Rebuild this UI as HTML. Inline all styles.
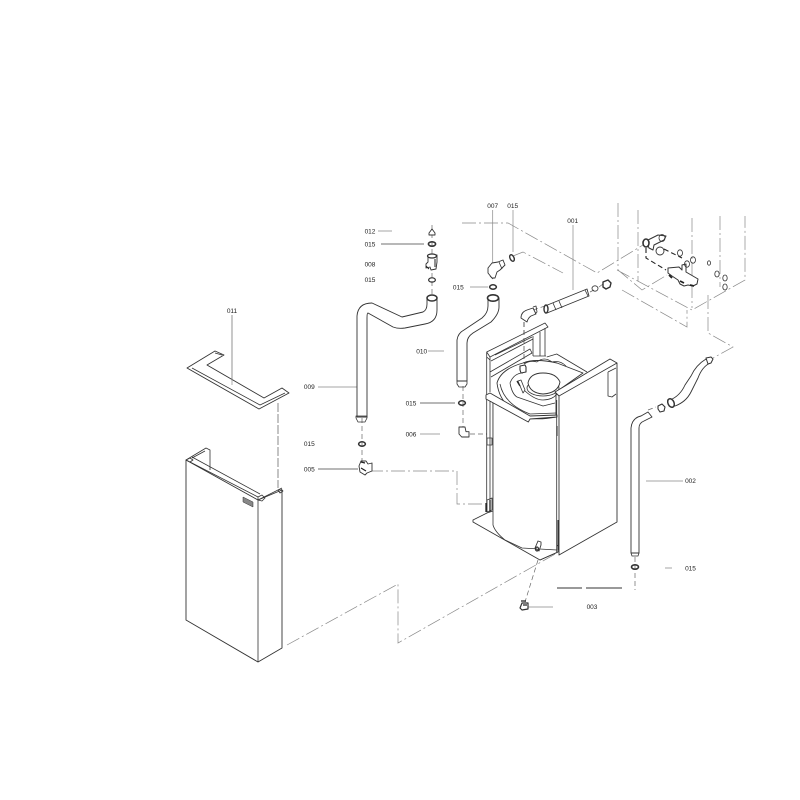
<!DOCTYPE html>
<html><head><meta charset="utf-8"><style>
html,body{margin:0;padding:0;background:#fff}
svg{display:block;filter:blur(.3px)}
text{font-family:"Liberation Sans",sans-serif;font-size:6.5px;fill:#222;text-anchor:middle}
.l{fill:none;stroke:#333;stroke-width:.8;stroke-linejoin:round}
.f{fill:#fff;stroke:#333;stroke-width:.9;stroke-linejoin:round}
.d{fill:none;stroke:#888;stroke-width:.7;stroke-dasharray:14 3 2 3}
.k{fill:none;stroke:#666;stroke-width:.7;stroke-dasharray:5 3}
.t{fill:none;stroke:#888;stroke-width:.7}
.m{fill:none;stroke:#222;stroke-width:1.5}
</style></head><body>
<svg width="800" height="800" viewBox="0 0 800 800" xmlns="http://www.w3.org/2000/svg">
<rect width="800" height="800" fill="#fff"/>
<!-- long dash lines -->
<path class="d" d="M287 645L398 584V643L557 553"/>
<path class="d" d="M369 471H457V504H484"/>
<path class="d" d="M462 223H508L597 273L643 245"/>
<path class="d" d="M513 256L523 252L563 273"/>
<path class="d" d="M618 203V270L642 290L667 275M638 210V281M617 270L692 310L745 280V216M720 216V287M692 218V308M622 290L687 327V310M708 295V333L733 347L713 358"/>
<path class="t" stroke-dasharray="9 2" style="stroke-width:1" d="M278 403V488"/>
<path class="k" d="M432 225V298M362 418V462M463 386V428M538 560L525 602M635 557V590"/>
<path class="k" d="M524 322V372"/>
<path class="k" d="M533 310L545 306M590 292L594 290M599 287L603 284M470 434H488M648 410L656 407"/>
<path class="m" style="stroke-width:1;stroke:#333" d="M557 588H582M586 588H622"/>
<path class="t" d="M646 481H683M527 607H553M378 231H392M318 387H360M428 351H444M420 434H440M232 315V385"/>
<path class="t" style="stroke:#444" d="M381 244H424M420 403H455M318 469H358"/>
<path class="t" d="M492.700 210V265M513 210V252M573 225V290M470 287H488M665 568H672"/>

<!-- lid 011 -->
<path class="f" d="M187 368L215 351L224 355L207 365L264 398L282 388L289 393L259 409Z"/>
<path class="l" d="M192 368L260 405L285 393M215 353L222 355"/>
<path class="t" d="M232 315V385"/>

<!-- front panel -->
<path class="f" d="M186 460V620L258 662L282 648V490L258 500Z"/>
<path class="l" d="M258 500V662M186 460L206 448L210 450V470M192 458L205 451M258 500L282 488M190 462L258 497M192 457L260 494"/>
<path class="l" d="M186 460l4-2 3 2-3 2zM258 497l4-2 3 3-3 3-4-1zM278 490l3-1 2 2-3 2z"/>
<path d="M243 497l10 5v5l-10-5z" fill="#888" stroke="#333" stroke-width=".5"/>

<!-- pipe 009 -->
<path class="f" d="M357 417V316Q358 303 372 303L402 317L423 312Q427 310 427 304V298H437V310Q437 322 425 324L405 328Q398 329 393 327L368 313Q367 313 367 318V417Z"/>
<path class="l" d="M356 416h11v2l-2 4h-7l-2-4z"/>
<ellipse class="f" cx="432" cy="298" rx="5" ry="3" style="stroke-width:1.500"/>
<!-- 012, 015, 008 parts -->
<path class="f" d="M429 233l3-4 3 4v2h-6z"/>
<ellipse class="l" cx="432" cy="244" rx="3.600" ry="2.200" style="stroke-width:1.600"/>
<path class="f" d="M428 256L437 255V262L436 269L431 270L430 267L426 268V264L428 262Z"/>
<ellipse class="f" cx="432" cy="256" rx="4.500" ry="2" style="stroke-width:1.200"/>
<path class="m" style="stroke-width:1" d="M426 266l3 3M435 259V267"/>
<ellipse class="l" cx="432" cy="280" rx="3.400" ry="2.200" style="stroke-width:1.200"/>
<!-- o-rings & fittings -->
<ellipse class="l" cx="362" cy="444" rx="3.400" ry="2.200" style="stroke-width:1.500"/>
<path class="f" d="M361 461l5 0 2 3 4-1v8l-5 2-2 2-5-3-1-6z"/>
<path class="m" style="stroke-width:1.200" d="M361 462l4 1M361 468l5 3"/>
<!-- pipe 010 -->
<path class="f" d="M457 381V340Q458 333 464 330L482 318Q488 313 488 306V298H499V307Q499 314 491 322L473 333Q467 337 467 343V381Z"/>
<path class="l" d="M457 381h10v3l-2 3h-6l-2-3z"/>
<ellipse class="f" cx="493" cy="298" rx="5.500" ry="3.200" style="stroke-width:1.600"/>
<ellipse class="l" cx="493" cy="287" rx="3.400" ry="2.200" style="stroke-width:1.500"/>
<ellipse class="l" cx="462" cy="403" rx="3.400" ry="2.200" style="stroke-width:1.500"/>
<path class="f" d="M459 427h6l1 4.700h3V437h-7.300l-2.700-3z"/>
<!-- 007 -->
<path class="f" d="M488 268L492 263L498 262L503 260L505 265L500 270L497 272L495 278H492L488 273Z"/>
<path class="l" d="M490 276l3 3M499 262l3 7"/>
<ellipse class="l" cx="512" cy="258" rx="2" ry="3.500" transform="rotate(-25 512 258)" style="stroke-width:1.400"/>
<!-- elbow + 001 -->
<path class="f" d="M521 318Q521 312 527 310L533 308L536 314L531 316Q528 318 527 322Z"/>
<path class="l" d="M533 307l3-1 1 6-2 2"/>
<path class="f" d="M545 306L587 289L589 296L547 313Z"/>
<path class="l" d="M553 303l3 7M559 301l3 7M585 290l3 6"/>
<ellipse class="f" cx="546" cy="309" rx="2" ry="4" style="stroke-width:1.400"/>
<ellipse class="l" cx="595" cy="288.500" rx="3" ry="2.700"/>
<path class="f" d="M603 282l5-2 3 3-1 4-4 2-3-2z" style="stroke-width:1.400"/>

<!-- tank: back frame -->
<path fill="#fff" d="M486 352L545 323L548 327V357L586 372L557 400V550L540 560L473 522L487 513V400Z"/>
<path class="l" d="M486.700 352L545 323L548 327L490 357L486.700 352V398M490 357V392M486.700 352V357L490 360"/>
<path class="l" d="M495 355L532 337M491 361L533 339M490 372L530 349L532 353L491 377"/>
<path class="l" d="M533 336V356M540 332V356M545 328V356M533 356H546"/>
<path class="l" d="M546.700 357L556.700 354L587 372"/>
<path class="l" d="M486.700 396V512M490 396V512M493 403V510"/>
<path class="k" style="stroke:#444" d="M524 322V372"/>
<!-- base -->
<path class="f" d="M473 520L487 513L493 511L558 546V552L540 560L473 522Z"/>
<path d="M493 403H557V550L522 549L505 540Q495 532 493 525Z" fill="#fff"/>
<path class="l" d="M493 403V525Q495 532 505 540L522 548L557 550"/>
<!-- disk -->
<path class="f" d="M497 383Q501 369 523 363Q535 358 557 363L583 373L556 392V417Q540 420 528 418Q500 408 497 383Z"/>
<path class="l" d="M500 384Q504 404 530 414L556 413"/>
<path class="l" d="M537 362Q544 356 552 362M524 364Q530 360 537 362M552 362Q560 360 566 366"/>
<path class="l" d="M510 383Q514 373 523 373M510 383Q512 394 517 397L543 406L555 403"/>
<path class="l" d="M525 391Q535 400 543 400Q552 400 557 394"/>
<ellipse class="l" cx="543" cy="388" rx="16" ry="8"/>
<path class="f" d="M528 383Q530 373 543 373Q556 373 560 382Q558 393 543 394Q530 393 528 383Z"/>
<path class="f" d="M520 366l5-1 1 2v5l-5 1-1-3z" style="stroke-width:1.100"/>
<path class="m" style="stroke-width:1.300" d="M517 381l3 5"/>
<path class="l" d="M518 381l3-1 4 10-2 3z"/>
<!-- shelf -->
<path class="f" d="M486 395L490 393L530 416L557 415V417L530 419L528.300 422L486 399Z"/>
<!-- side panel -->
<path class="f" d="M555 392L610 359L617 363V522L559 555V396Z"/>
<path class="l" d="M559 396L617 363M608 372V396L612 397L616 394M608 372L616 368"/>
<path class="l" d="M556.700 400V552"/>
<path class="m" style="stroke-width:1" d="M557 426V436M558 520V550"/>
<path class="l" d="M487 500l5-2v12l-5 2zM487 438h5v7h-5z"/>
<path class="m" style="stroke-width:1.300" d="M486 503V512M490 500V512"/>
<path class="l" d="M540 560L558 552"/>
<path class="f" d="M535 548l3-7 3 1 0 3-2 6z"/>
<ellipse class="l" cx="537" cy="549" rx="1.500" ry="2" style="stroke-width:1.300"/>
<!-- 003 -->
<path class="f" d="M522 603h6v6l-6 1-2-2z" style="stroke-width:1.200"/>
<path class="m" style="stroke-width:1.200" d="M521 601h5M523 605l4 0"/>
<!-- pipe 002 -->
<path class="f" d="M631 553V428Q632 418 641 416L648 412L652 417L644 421Q639 423 639 428V553Z"/>
<path class="l" d="M631 553l1 3h6l1-3"/>
<ellipse class="l" cx="635" cy="567" rx="3.500" ry="2.200" style="stroke-width:1.600"/>
<path class="f" d="M670 400Q680 396 685 385L691 376Q696 365 706 359L710 363Q702 367 698 378L691 392Q686 402 675 406Z"/>
<ellipse class="f" cx="671" cy="403" rx="3" ry="4.500" transform="rotate(-25 671 403)" style="stroke-width:1.500"/>
<path class="f" d="M706 358l5-1 2 2-2 4-3 1z" style="stroke-width:1"/>
<path class="f" d="M658 406l4-2 3 3-1 4-4 1-2-3z" style="stroke-width:1.100"/>

<!-- manifold -->
<path class="f" d="M646 241l12-6 8 1-2 4-10 5-1 5-4-2z" style="stroke-width:1"/>
<ellipse class="f" cx="646" cy="243" rx="3" ry="4" style="stroke-width:1.600"/>
<ellipse class="l" cx="662" cy="238" rx="3" ry="3.500"/>
<ellipse class="f" cx="660" cy="251" rx="4" ry="4"/>
<path class="k" style="stroke:#222;stroke-width:1.100" d="M646 248V258L666 270M664 249L682 258"/>
<ellipse class="l" cx="680" cy="253" rx="2.500" ry="3.200"/>
<path class="f" d="M668 268l11-1 3 3 0-5 4-1v8l12 7-1 5-4 2-5-1-4 1-4-2-2-4-6-4-4-3z" style="stroke-width:1"/>
<path class="m" style="stroke-width:1.800" d="M669 275l3 3M680 281l4 2M690 285l4 1"/>
<ellipse class="l" cx="687" cy="264" rx="2.500" ry="3.200"/>
<ellipse class="l" cx="693" cy="260" rx="2.500" ry="3.200"/>
<ellipse class="l" cx="709" cy="263" rx="1.600" ry="2.200"/>
<ellipse class="l" cx="717" cy="274" rx="2.200" ry="3"/>
<ellipse class="l" cx="725" cy="278" rx="2.200" ry="3"/>
<ellipse class="l" cx="725" cy="287" rx="2.200" ry="3"/>

<!-- labels -->
<text x="370" y="233.500">012</text>
<text x="370" y="246.500">015</text>
<text x="370" y="266.500">008</text>
<text x="370" y="282">015</text>
<text x="492.700" y="208">007</text>
<text x="512.700" y="208">015</text>
<text x="458.300" y="289.500">015</text>
<text x="421.700" y="353.500">010</text>
<text x="309.300" y="389">009</text>
<text x="411" y="405.500">015</text>
<text x="411" y="436.500">006</text>
<text x="309.300" y="446">015</text>
<text x="309.300" y="471.500">005</text>
<text x="232" y="313">011</text>
<text x="572.700" y="223">001</text>
<text x="690.500" y="483">002</text>
<text x="690.500" y="570.500">015</text>
<text x="592" y="609">003</text>
</svg>
</body></html>
